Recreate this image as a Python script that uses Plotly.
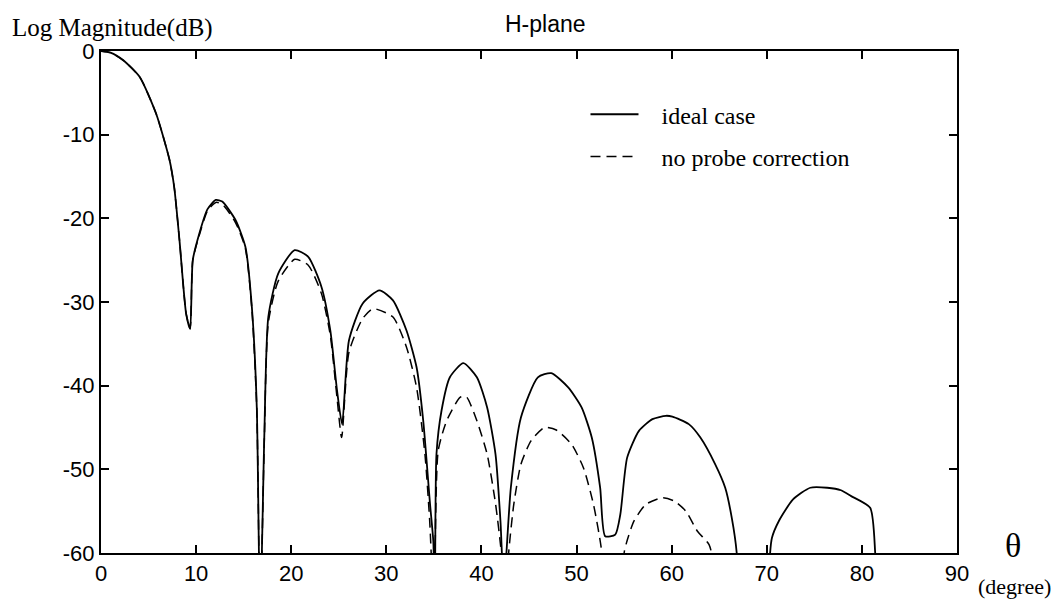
import plotly.graph_objects as go

# Ideal case (solid)
theta_ideal = [0, 1.0, 2.33, 4.07, 5.8, 7.2, 7.7, 8.25, 8.95, 9.37, 9.65, 10.34, 11.2, 12.07, 12.75,
               14.14, 15.18, 15.86, 16.38, 16.73, 17.17, 17.59, 18.63, 20.36, 21.79, 23.18, 24.11,
               24.82, 25.35, 26.07, 27.5, 29.28, 30.7, 32.12, 33.18, 33.88, 34.59, 34.94, 35.1,
               35.27, 35.8, 36.68, 38.1, 39.52, 40.6, 41.48, 42.0, 42.35, 43.09, 44.15, 45.93,
               47.34, 49.12, 50.53, 51.6, 52.48, 53.01, 54.07, 54.6, 55.32, 56.56, 57.98, 59.39,
               60.07, 61.8, 63.02, 64.58, 65.63, 66.32, 66.84, 67.3, 69.9, 70.35, 70.54, 71.26,
               72.76, 74.57, 76.36, 77.8, 78.87, 80.87, 81.4, 81.7]
mag_ideal = [0, -0.2, -1.1, -3.1, -7.5, -13, -16.3, -22.6, -31.4, -33.2, -25, -21.8, -18.9, -17.8, -18,
             -20.2, -23.4, -30.6, -42.6, -68, -46, -31.8, -26.6, -23.8, -24.6, -28.2, -33.4,
             -40.6, -44.6, -34.6, -30.2, -28.6, -29.8, -33.4, -37.8, -44.2, -54.1, -58.6, -66,
             -48.2, -43, -39, -37.3, -39, -42.6, -48.2, -56.2, -64, -52.2, -43.8, -39,
             -38.5, -40.2, -42.6, -46.2, -52.2, -58, -57.8, -55.4, -48.6, -45.4, -44, -43.6,
             -43.7, -44.6, -46.2, -49.4, -52.2, -55.8, -60, -75, -75, -60, -58.2, -56.2,
             -53.6, -52.2, -52.2, -52.5, -53.2, -54.6, -60, -72]

# No probe correction (dashed)
theta_noprobe = [0, 1.0, 2.33, 4.07, 5.8, 7.2, 7.7, 8.25, 8.95, 9.37, 9.65, 10.34, 11.2, 12.07, 12.75,
                 14.14, 15.18, 15.86, 16.38, 16.73, 17.17, 17.59, 18.63, 20.36, 21.79, 23.18, 24.11,
                 24.82, 25.3, 26.07, 27.5, 28.6, 30.7, 32.12, 33.18, 34.06, 34.55, 35.0, 35.45,
                 36.34, 37.75, 38.4, 39.52, 40.6, 41.48, 42.09, 42.45, 42.86, 43.4, 44.15, 45.21,
                 46.63, 47.87, 49.47, 50.72, 51.78, 52.66, 53.0, 54.6, 55.0, 55.32, 56.03, 57.27,
                 59.04, 60.28, 61.49, 62.71, 63.93, 64.45, 64.7]
mag_noprobe = [0, -0.2, -1.1, -3.1, -7.5, -13, -16.3, -22.6, -31.4, -33.2, -25, -22.0, -19.1, -18.1, -18.3,
               -20.5, -23.6, -30.8, -42.8, -68, -46.5, -32.5, -27.5, -24.9, -25.6, -29, -34,
               -41.5, -46.2, -36, -32, -30.8, -31.8, -35.4, -40.2, -48.2, -56, -66, -47.8,
               -44.2, -41.4, -41.3, -44.2, -48.2, -54.1, -60, -68, -60, -54.2, -49.4, -46.6,
               -45, -45.3, -47, -49.8, -54.2, -60, -70, -70, -60, -58.5, -56.2, -54.2,
               -53.4, -53.8, -55, -57.4, -59, -61.5, -70]

x_ticks = [0, 10, 20, 30, 40, 50, 60, 70, 80, 90]
y_ticks = [0, -10, -20, -30, -40, -50, -60]

NB = "\u00a0\u00a0\u00a0"
fig = go.Figure()
fig.add_trace(go.Scatter(x=theta_ideal, y=mag_ideal, mode="lines", name=NB + "ideal case",
                         legendgroup="a",
                         line=dict(color="black", width=1.8, shape="spline", smoothing=0.6)))
fig.add_trace(go.Scatter(x=theta_noprobe, y=mag_noprobe, mode="lines", name=NB + "no probe correction",
                         legendgroup="b",
                         line=dict(color="black", width=1.5, dash="10px,6px", shape="spline", smoothing=0.6)))

axis_common = dict(showgrid=False, zeroline=False, showline=True, linecolor="black", linewidth=2,
                   mirror="ticks", ticks="inside", ticklen=8, tickwidth=1.5, tickcolor="black",
                   tickfont=dict(family="Liberation Sans, Arial, sans-serif", size=22, color="black"))

fig.update_xaxes(range=[0, 90], tickvals=x_ticks, ticktext=[str(v) for v in x_ticks], **axis_common)
fig.update_yaxes(range=[-60, 0], tickvals=y_ticks, ticktext=[str(v) for v in y_ticks], **axis_common)

serif = "Liberation Serif, Times New Roman, serif"
fig.update_layout(
    width=1062, height=599,
    margin=dict(l=101, r=105, t=51, b=46),
    plot_bgcolor="white", paper_bgcolor="white",
    showlegend=True,
    legend=dict(x=0.566, y=0.918, xanchor="left", yanchor="top",
                font=dict(family=serif, size=24, color="black"),
                bgcolor="rgba(0,0,0,0)", tracegroupgap=8, itemwidth=48),
    annotations=[
        dict(text="Log Magnitude(dB)", xref="paper", yref="paper", x=-91/856, y=1 + 23/502,
             xanchor="left", yanchor="middle", showarrow=False,
             font=dict(family=serif, size=25, color="black")),
        dict(text="H-plane", xref="paper", yref="paper", x=(545-101)/856, y=1 + 27/502,
             xanchor="center", yanchor="middle", showarrow=False,
             font=dict(family="Liberation Sans, Arial, sans-serif", size=23, color="black")),
        dict(text="θ", xref="paper", yref="paper", x=(1013-101)/856, y=(553-545)/502,
             xanchor="center", yanchor="middle", showarrow=False,
             font=dict(family=serif, size=34, color="black")),
        dict(text="(degree)", xref="paper", yref="paper", x=(1014-101)/856, y=-(586-553)/502,
             xanchor="center", yanchor="middle", showarrow=False,
             font=dict(family=serif, size=22, color="black")),
    ],
)

fig.write_html("out.html")
